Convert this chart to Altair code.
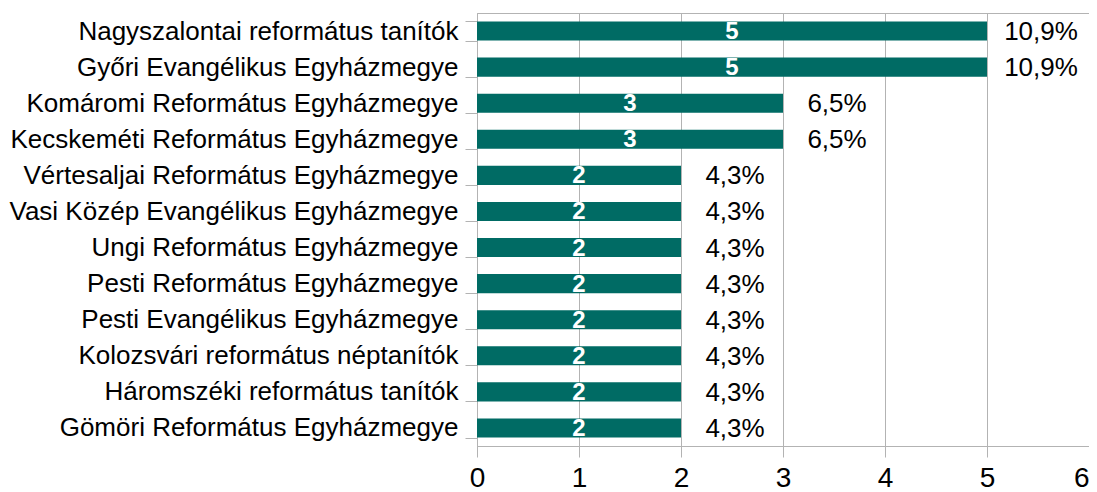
import altair as alt
import pandas as pd

categories = [
    "Nagyszalontai református tanítók",
    "Győri Evangélikus Egyházmegye",
    "Komáromi Református Egyházmegye",
    "Kecskeméti Református Egyházmegye",
    "Vértesaljai Református Egyházmegye",
    "Vasi Közép Evangélikus Egyházmegye",
    "Ungi Református Egyházmegye",
    "Pesti Református Egyházmegye",
    "Pesti Evangélikus Egyházmegye",
    "Kolozsvári református néptanítók",
    "Háromszéki református tanítók",
    "Gömöri Református Egyházmegye",
]
counts = [5, 5, 3, 3, 2, 2, 2, 2, 2, 2, 2, 2]
percents = ["10,9%", "10,9%", "6,5%", "6,5%", "4,3%", "4,3%", "4,3%",
            "4,3%", "4,3%", "4,3%", "4,3%", "4,3%"]
x_ticks = [0, 1, 2, 3, 4, 5, 6]

df = pd.DataFrame({"cat": categories, "count": counts, "pct": percents})

FONT = "Liberation Sans"
GRAY = "#b3b3b3"
BAR = "#006b64"

y_enc = alt.Y(
    "cat:N",
    sort=categories,
    title=None,
    scale=alt.Scale(paddingInner=0.47, paddingOuter=0.235),
    axis=alt.Axis(
        labelFont=FONT, labelFontSize=26, labelColor="#000000",
        labelPadding=7, tickSize=12, tickColor=GRAY, domainColor=GRAY,
        tickBand="extent", grid=False, labelLimit=600,
    ),
)
x_scale = alt.Scale(domain=[0, 6], nice=False)

bars = alt.Chart(df).mark_bar(color=BAR).encode(
    x=alt.X(
        "count:Q", scale=x_scale, title=None,
        axis=alt.Axis(
            values=x_ticks, labelFont=FONT, labelFontSize=28, labelColor="#000000",
            tickSize=11, tickColor=GRAY, domainColor=GRAY, gridColor=GRAY,
            labelPadding=7, format="d", labelFlush=False,
            labelAlign=alt.condition("datum.value == 6", alt.value("right"), alt.value("center")),
        ),
    ),
    y=y_enc,
)

inner = alt.Chart(df).transform_calculate(mid="datum.count / 2").mark_text(
    color="white", font=FONT, fontSize=24, fontWeight="bold",
    align="center", baseline="middle", dy=1,
).encode(
    x=alt.X("mid:Q", scale=x_scale),
    y=alt.Y("cat:N", sort=categories),
    text="count:Q",
)

outer = alt.Chart(df).mark_text(
    color="#000000", font=FONT, fontSize=26,
    align="center", baseline="middle", dx=54, dy=1,
).encode(
    x=alt.X("count:Q", scale=x_scale),
    y=alt.Y("cat:N", sort=categories),
    text="pct:N",
)

chart = (
    alt.layer(bars, inner, outer)
    .properties(
        width=612, height=433,
        autosize=alt.AutoSizeParams(type="none"),
        padding={"left": 469, "top": 5, "right": 0, "bottom": 46},
    )
    .configure_view(stroke=GRAY)
)

chart.save("out.html", embed_options={"renderer": "svg", "actions": False})
